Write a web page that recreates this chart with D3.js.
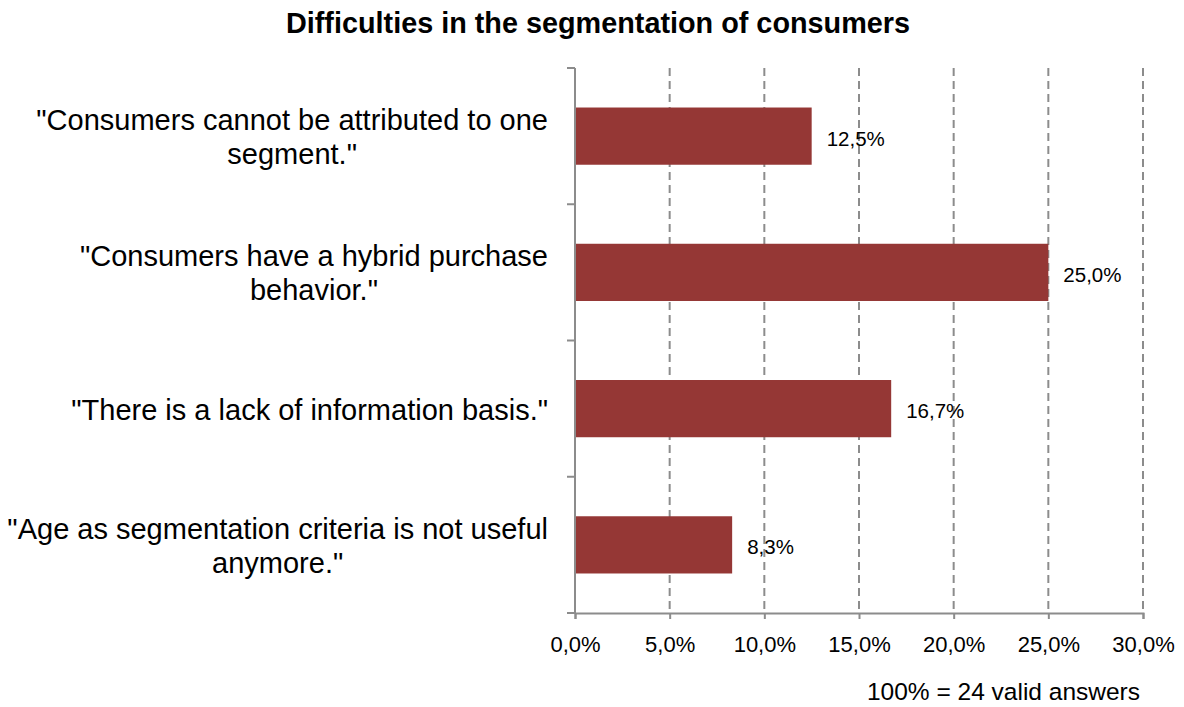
<!DOCTYPE html>
<html>
<head>
<meta charset="utf-8">
<script src="https://cdn.jsdelivr.net/npm/d3@7"></script>
<style>
  html, body { margin: 0; padding: 0; background: #fff; }
  svg { display: block; font-family: Arial, "Liberation Sans", sans-serif; }
</style>
</head>
<body>
<svg id="chart" width="1184" height="707"></svg>
<script>
// Survey results: difficulties in consumer segmentation
const categories = [
  ["\"Consumers cannot be attributed to one", "segment.\""],
  ["\"Consumers have a hybrid purchase", "behavior.\""],
  ["\"There is a lack of information basis.\""],
  ["\"Age as segmentation criteria is not useful", "anymore.\""]
];
const values = [12.5, 25.0, 16.7, 8.3];
const xTicks = [0, 5, 10, 15, 20, 25, 30];
const titleText = "Difficulties in the segmentation of consumers";
const noteText = "100% = 24 valid answers";

const svg = d3.select("#chart");
const plot = { left: 575, right: 1143, top: 68, bottom: 613 };
const barColor = "#953735";
const axisColor = "#8c8c8c";

const locale = d3.formatLocale({ decimal: ",", thousands: ".", grouping: [3], currency: ["", "€"] });
const pct = v => locale.format(".1f")(v) + "%";

const x = d3.scaleLinear().domain([0, 30]).range([plot.left, plot.right]);
const ids = categories.map((_, i) => i);
const y = d3.scaleBand().domain(ids).range([plot.top, plot.bottom])
  .paddingInner(0.58).paddingOuter(0.29);
const step = y.step();

// Title
svg.append("text")
  .attr("x", 598).attr("y", 33)
  .attr("text-anchor", "middle")
  .attr("font-weight", "bold")
  .attr("font-size", 28.8)
  .attr("fill", "#000")
  .text(titleText);

// Dashed vertical gridlines
svg.append("g").selectAll("line")
  .data(xTicks.filter(t => t > 0))
  .join("line")
  .attr("x1", d => x(d)).attr("x2", d => x(d))
  .attr("y1", plot.top).attr("y2", plot.bottom)
  .attr("stroke", axisColor)
  .attr("stroke-width", 2)
  .attr("stroke-dasharray", "8,5");

// Bars
svg.append("g").selectAll("rect")
  .data(values)
  .join("rect")
  .attr("x", x(0))
  .attr("y", (d, i) => y(i))
  .attr("width", d => x(d) - x(0))
  .attr("height", y.bandwidth())
  .attr("fill", barColor);

// Value labels
svg.append("g").selectAll("text")
  .data(values)
  .join("text")
  .attr("x", d => x(d) + 15)
  .attr("y", (d, i) => y(i) + y.bandwidth() / 2 + 2)
  .attr("dominant-baseline", "central")
  .attr("font-size", 20.5)
  .attr("fill", "#000")
  .text(d => pct(d));

// Vertical axis with ticks on category boundaries
const yAxis = svg.append("g");
yAxis.append("line")
  .attr("x1", plot.left).attr("x2", plot.left)
  .attr("y1", plot.top).attr("y2", plot.bottom)
  .attr("stroke", axisColor).attr("stroke-width", 2);
yAxis.selectAll("line.tick")
  .data(d3.range(categories.length + 1))
  .join("line")
  .attr("class", "tick")
  .attr("x1", plot.left - 8).attr("x2", plot.left)
  .attr("y1", i => plot.top + i * step).attr("y2", i => plot.top + i * step)
  .attr("stroke", axisColor).attr("stroke-width", 2);

// Category labels: each block centred on its widest line, right edge near the axis
const labelRight = 548;
const lineGap = 34;
const catG = svg.append("g");
categories.forEach((lines, i) => {
  const cy = y(i) + y.bandwidth() / 2 + 1;
  const t = catG.append("text")
    .attr("font-size", 29)
    .attr("fill", "#000")
    .attr("text-anchor", "middle");
  const spans = lines.map((s, k) =>
    t.append("tspan")
      .attr("y", cy + (k - (lines.length - 1) / 2) * lineGap)
      .attr("dominant-baseline", "central")
      .text(s));
  const maxW = d3.max(spans, sp => sp.node().getComputedTextLength());
  spans.forEach(sp => sp.attr("x", labelRight - maxW / 2));
});

// Horizontal axis
const xAxis = d3.axisBottom(x).tickValues(xTicks).tickFormat(pct).tickSize(6).tickPadding(17);
const gx = svg.append("g")
  .attr("transform", `translate(0,${plot.bottom})`)
  .call(xAxis);
gx.select(".domain").attr("stroke", axisColor).attr("stroke-width", 2);
gx.selectAll(".tick line").attr("stroke", axisColor).attr("stroke-width", 2);
gx.selectAll(".tick text")
  .attr("font-size", 22)
  .attr("font-family", "Arial, 'Liberation Sans', sans-serif")
  .attr("fill", "#000");

// Footnote
svg.append("text")
  .attr("x", 1140).attr("y", 700)
  .attr("text-anchor", "end")
  .attr("font-size", 24.5)
  .attr("fill", "#000")
  .text(noteText);
</script>
</body>
</html>
